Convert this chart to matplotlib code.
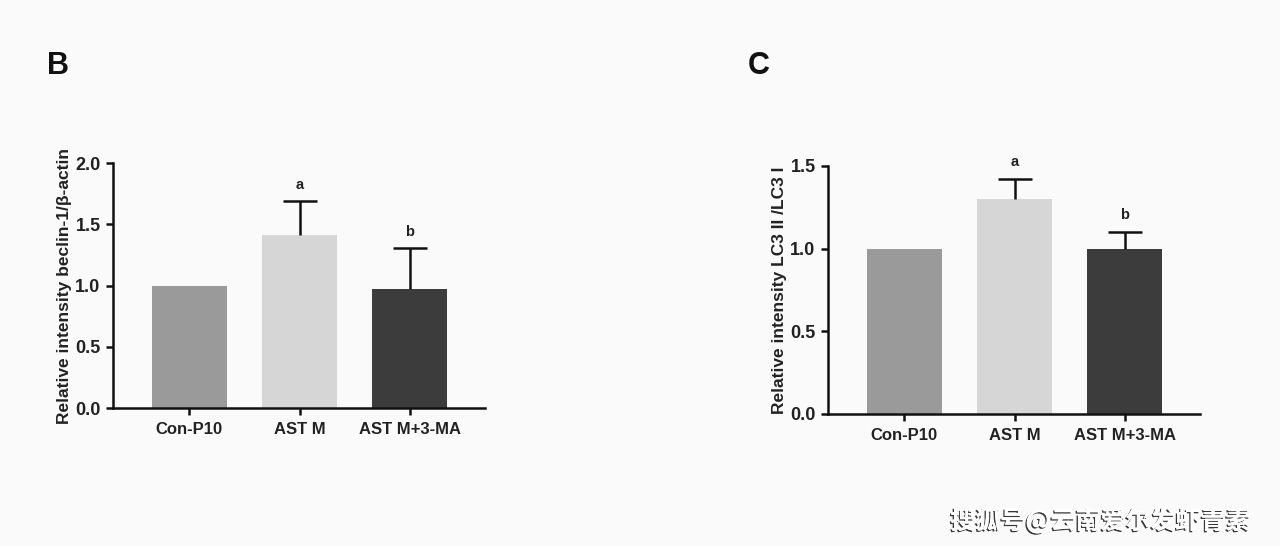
import matplotlib.pyplot as plt
import matplotlib.patheffects as pe

plt.rcParams['font.family'] = ['Liberation Sans', 'DejaVu Sans']
plt.rcParams['font.weight'] = 'bold'

GROUPS = ['Con-P10', 'AST M', 'AST M+3-MA']
COLORS = ['#9a9a9a', '#d6d6d6', '#3c3c3c']

# panel B: beclin-1 / beta-actin
B_MEAN = [1.0, 1.41, 0.97]
B_ERR = [0.0, 0.28, 0.34]
B_SIG = ['', 'a', 'b']
B_TICKS = [0.0, 0.5, 1.0, 1.5, 2.0]

# panel C: LC3 II / LC3 I
C_MEAN = [1.0, 1.30, 0.995]
C_ERR = [0.0, 0.12, 0.105]
C_SIG = ['', 'a', 'b']
C_TICKS = [0.0, 0.5, 1.0, 1.5]

BG = '#fafafa'


def bar_panel(fig, rect, means, errs, sig, yticks, ylabel, letter, letter_x, sig_off):
    ax = fig.add_axes(rect)
    ax.set_facecolor(BG)
    x = list(range(len(means)))
    ax.bar(x, means, width=0.68, color=COLORS, edgecolor='none', zorder=1)
    # only upper error bars, drawn where there is an error
    ex = [i for i in x if errs[i] > 0]
    _, caps, _ = ax.errorbar(ex, [means[i] for i in ex],
                             yerr=[[0] * len(ex), [errs[i] for i in ex]], fmt='none',
                             ecolor='#111111', elinewidth=1.8, capsize=12.5, capthick=1.8, zorder=2)
    caps[0].set_visible(False)
    for i, s in enumerate(sig):
        if s:
            ax.text(i, means[i] + errs[i] + sig_off, s, ha='center', va='bottom',
                    fontsize=10.5, fontweight='bold', color='#222222', clip_on=False)
    ax.set_xlim(-0.69, 2.68)
    ax.set_ylim(0, yticks[-1])
    ax.set_yticks(yticks)
    ax.set_yticklabels([f'{t:.1f}' for t in yticks], fontsize=13, fontweight='bold', color='#222222')
    ax.set_xticks(x)
    ax.set_xticklabels(GROUPS, fontsize=12, fontweight='bold', color='#222222')
    for side in ['top', 'right']:
        ax.spines[side].set_visible(False)
    for side in ['left', 'bottom']:
        ax.spines[side].set_linewidth(1.8)
        ax.spines[side].set_color('#111111')
    ax.tick_params(axis='both', width=1.8, length=5, color='#111111')
    ax.tick_params(axis='x', pad=5)
    ax.tick_params(axis='y', pad=4)
    ax.set_ylabel(ylabel, fontsize=12.5, fontweight='bold', color='#222222')
    ax.yaxis.set_label_coords(-0.11, 0.5)
    fig.text(letter_x, 0.88, letter, fontsize=22, fontweight='bold',
             color='#111111', ha='left', va='center')
    return ax


fig = plt.figure(figsize=(12.8, 5.46), dpi=100)
fig.patch.set_facecolor(BG)

bar_panel(fig, [0.0883, 0.2527, 0.2906, 0.4487], B_MEAN, B_ERR, B_SIG, B_TICKS,
          'Relative intensity beclin-1/β-actin', 'B', 0.037, 0.07)
bar_panel(fig, [0.6469, 0.2418, 0.2906, 0.4542], C_MEAN, C_ERR, C_SIG, C_TICKS,
          'Relative intensity LC3 II /LC3 I', 'C', 0.584, 0.06)

fig.text(0.977, 0.047, '搜狐号@云南爱尔发虾青素', family=['Noto Sans CJK SC', 'DejaVu Sans'],
         fontsize=18, color='white', ha='right', va='center',
         path_effects=[pe.withSimplePatchShadow(offset=(-1, -1), shadow_rgbFace='#222222', alpha=0.9),
                       pe.Normal()])

fig.savefig('out.png', dpi=100, facecolor=BG)
